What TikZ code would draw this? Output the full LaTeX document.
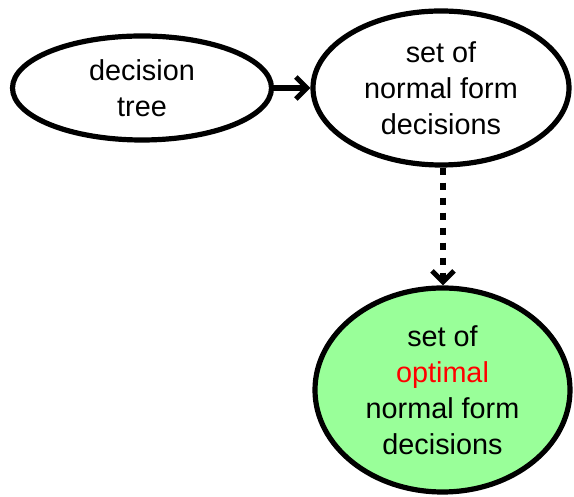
\documentclass[tikz,border=0pt]{standalone}
\usepackage{fontspec}
\setmainfont{Liberation Sans}
\usetikzlibrary{shapes.geometric,arrows.meta}
\definecolor{optgreen}{RGB}{153,255,153}
\definecolor{optred}{RGB}{255,0,0}
\tikzset{
  blob/.style={ellipse, draw=black, line width=5.2pt, inner sep=0pt,
    align=center, font=\fontsize{28.8}{36}\selectfont},
  link/.style={line width=5.2pt, -{Straight Barb[length=11pt,width=22pt,line width=5pt]}},
}
\begin{document}
\begin{tikzpicture}[x=1pt,y=1pt]
  \useasboundingbox (0,0) rectangle (574,497);
  \node[blob, minimum width=259pt, minimum height=104pt] (tree) at (142,409)
    {decision\\tree};
  \node[blob, minimum width=256pt, minimum height=154pt] (nf) at (441,409)
    {set of\\normal form\\decisions};
  \node[blob, fill=optgreen, minimum width=255pt, minimum height=204pt] (opt) at (442.5,107)
    {set of\\\textcolor{optred}{optimal}\\normal form\\decisions};
  \draw[link] (tree) -- (nf);
  \draw[link, dash pattern=on 7.5pt off 7.5pt] (nf.south -| 443,0) -- (opt.north -| 443,0);
\end{tikzpicture}
\end{document}
